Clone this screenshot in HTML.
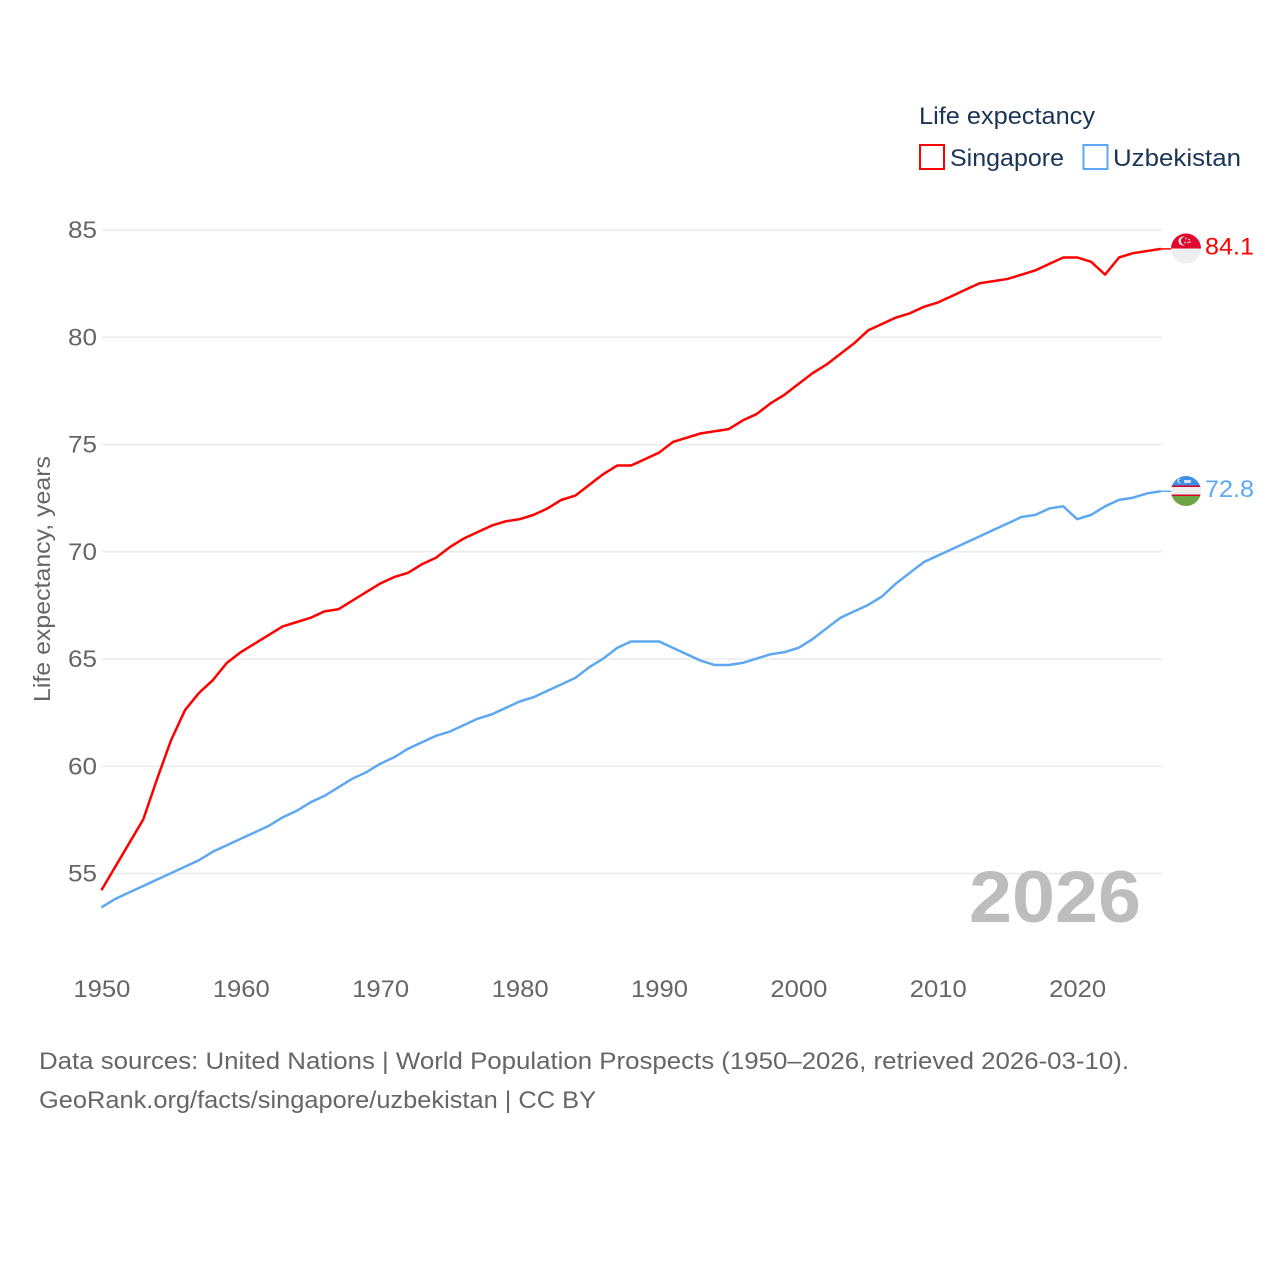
<!DOCTYPE html>
<html lang="en">
<head>
<meta charset="utf-8">
<title>Life expectancy: Singapore vs Uzbekistan</title>
<style>
html,body{margin:0;padding:0;background:#fff;}
svg{display:block;font-family:"Liberation Sans",Arial,sans-serif;}
</style>
</head>
<body>
<svg id="chart" width="1280" height="1280" viewBox="0 0 1280 1280" xmlns="http://www.w3.org/2000/svg">
  <rect width="1280" height="1280" fill="#ffffff"/>
  <g id="grid"></g>
  <g id="yticks"></g>
  <g id="xticks"></g>
  <text x="969" y="922" font-size="73" font-weight="700" fill="#bdbdbd" textLength="172" lengthAdjust="spacingAndGlyphs">2026</text>
  <g id="series"></g>

  <text transform="translate(50,702) rotate(-90)" font-size="23" fill="#666666" textLength="246" lengthAdjust="spacingAndGlyphs">Life expectancy, years</text>

  <text x="919" y="124" font-size="24" fill="#1b3557" textLength="176" lengthAdjust="spacingAndGlyphs">Life expectancy</text>
  <g>
    <rect x="920" y="145" width="24" height="24" fill="none" stroke="#ff0000" stroke-width="2"/>
    <text x="950" y="166" font-size="24" fill="#1b3557" textLength="114" lengthAdjust="spacingAndGlyphs">Singapore</text>
  </g>
  <g>
    <rect x="1083.500" y="145" width="24" height="24" fill="none" stroke="#5ea8f2" stroke-width="2"/>
    <text x="1113" y="166" font-size="24" fill="#1b3557" textLength="128" lengthAdjust="spacingAndGlyphs">Uzbekistan</text>
  </g>

  <defs>
    <clipPath id="clip-sg"><circle cx="1186" cy="248.500" r="15"/></clipPath>
    <clipPath id="clip-uz"><circle cx="1186" cy="491" r="15"/></clipPath>
  </defs>
  <g clip-path="url(#clip-sg)">
    <rect x="1171" y="233.500" width="30" height="15" fill="#df0a2d"/>
    <rect x="1171" y="248.500" width="30" height="15" fill="#eeeeee"/>
    <circle cx="1183" cy="241" r="4.500" fill="#f5f5f5"/>
    <circle cx="1184.800" cy="241" r="4" fill="#df0a2d"/>
    <circle cx="1186" cy="238.500" r="0.800" fill="#f5f5f5"/>
    <circle cx="1189" cy="239.500" r="0.800" fill="#f5f5f5"/>
    <circle cx="1188" cy="242.500" r="0.800" fill="#f5f5f5"/>
    <circle cx="1185" cy="242.500" r="0.800" fill="#f5f5f5"/>
    <circle cx="1190" cy="242" r="0.800" fill="#f5f5f5"/>
  </g>
  <g clip-path="url(#clip-uz)">
    <rect x="1171" y="476" width="30" height="10" fill="#3f8fe8"/>
    <rect x="1171" y="486" width="30" height="10" fill="#eeeeee"/>
    <rect x="1171" y="496" width="30" height="10" fill="#6da544"/>
    <rect x="1171" y="485.500" width="30" height="1.500" fill="#d80027"/>
    <rect x="1171" y="494.500" width="30" height="1.500" fill="#d80027"/>
    <circle cx="1180" cy="481" r="2.500" fill="#eeeeee"/>
    <circle cx="1181" cy="481" r="2.200" fill="#3f8fe8"/>
    <rect x="1184" y="480" width="7" height="3" fill="#cfe3f8"/>
  </g>
  <text x="1205" y="254.500" font-size="24.500" fill="#ff0000" textLength="49" lengthAdjust="spacingAndGlyphs">84.1</text>
  <text x="1205" y="497" font-size="24.500" fill="#5ea8f2" textLength="49" lengthAdjust="spacingAndGlyphs">72.8</text>

  <text x="39" y="1069" font-size="24" fill="#666666" textLength="1090" lengthAdjust="spacingAndGlyphs">Data sources: United Nations | World Population Prospects (1950–2026, retrieved 2026-03-10).</text>
  <text x="39" y="1108" font-size="24" fill="#666666" textLength="557" lengthAdjust="spacingAndGlyphs">GeoRank.org/facts/singapore/uzbekistan | CC BY</text>
</svg>
<script>
const startYear = 1950;
const yTickValues = [85, 80, 75, 70, 65, 60, 55];
const xTickValues = [1950, 1960, 1970, 1980, 1990, 2000, 2010, 2020];
const singaporeValues = [54.2,55.3,56.4,57.5,59.4,61.2,62.6,63.4,64.0,64.8,65.3,65.7,66.1,66.5,66.7,66.9,67.2,67.3,67.7,68.1,68.5,68.8,69.0,69.4,69.7,70.2,70.6,70.9,71.2,71.4,71.5,71.7,72.0,72.4,72.6,73.1,73.6,74.0,74.0,74.3,74.6,75.1,75.3,75.5,75.6,75.7,76.1,76.4,76.9,77.3,77.8,78.3,78.7,79.2,79.7,80.3,80.6,80.9,81.1,81.4,81.6,81.9,82.2,82.5,82.6,82.7,82.9,83.1,83.4,83.7,83.7,83.5,82.9,83.7,83.9,84.0,84.1];
const uzbekistanValues = [53.4,53.8,54.1,54.4,54.7,55.0,55.3,55.6,56.0,56.3,56.6,56.9,57.2,57.6,57.9,58.3,58.6,59.0,59.4,59.7,60.1,60.4,60.8,61.1,61.4,61.6,61.9,62.2,62.4,62.7,63.0,63.2,63.5,63.8,64.1,64.6,65.0,65.5,65.8,65.8,65.8,65.5,65.2,64.9,64.7,64.7,64.8,65.0,65.2,65.3,65.5,65.9,66.4,66.9,67.2,67.5,67.9,68.5,69.0,69.5,69.8,70.1,70.4,70.7,71.0,71.3,71.6,71.7,72.0,72.1,71.5,71.7,72.1,72.4,72.5,72.7,72.8];

const NS = 'http://www.w3.org/2000/svg';
function xScale(year) { return 101.4 + (year - 1950) * 13.94; }
function yScale(value) { return 229.6 + (85 - value) * 21.45; }
function make(tag, attrs, text) {
  const el = document.createElementNS(NS, tag);
  for (const k in attrs) el.setAttribute(k, attrs[k]);
  if (text !== undefined) el.textContent = text;
  return el;
}
const gridGroup = document.getElementById('grid');
const yGroup = document.getElementById('yticks');
const xGroup = document.getElementById('xticks');
const seriesGroup = document.getElementById('series');

yTickValues.forEach(function (v) {
  const gy = yScale(v) + 0.4;
  const line = make('line', {x1: 102, x2: 1162, y1: gy, y2: gy, stroke: '#ebebeb', 'stroke-width': 1.500});
  
  
  gridGroup.appendChild(line);
  const label = make('text', {x: 97, y: gy + 8, 'text-anchor': 'end', 'font-size': 24, fill: '#666666', textLength: 29, lengthAdjust: 'spacingAndGlyphs'}, String(v));
  
  
  yGroup.appendChild(label);
});

xTickValues.forEach(function (y) {
  const label = make('text', {x: xScale(y) - 28, y: 997, 'font-size': 24, fill: '#666666', textLength: 57, lengthAdjust: 'spacingAndGlyphs'}, String(y));
  
  
  xGroup.appendChild(label);
});

function drawSeries(values, color, name) {
  const pts = values.map(function (v, i) { return xScale(startYear + i).toFixed(2) + ',' + yScale(v).toFixed(2); });
  const line = make('polyline', {points: pts.join(' '), fill: 'none', stroke: color, 'stroke-width': 2.500, 'stroke-linejoin': 'round'});
  
  
  seriesGroup.appendChild(line);
  const lastY = yScale(values[values.length - 1]);
  const connector = make('line', {x1: xScale(startYear + values.length - 1), x2: 1172, y1: lastY, y2: lastY, stroke: color, 'stroke-width': 1.500});
  
  
  seriesGroup.appendChild(connector);
}
drawSeries(singaporeValues, '#ff0000', 'singapore');
drawSeries(uzbekistanValues, '#5ea8f2', 'uzbekistan');
</script>
</body>
</html>
